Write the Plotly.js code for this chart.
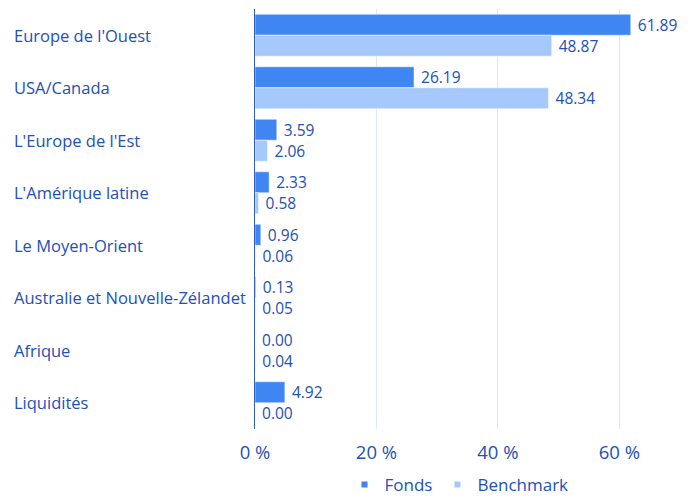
<!DOCTYPE html>
<html><head><meta charset="utf-8">
<script src="https://cdn.plot.ly/plotly-3.0.1.min.js"></script>
<style>html,body{margin:0;padding:0;background:#fff}</style>
</head><body><div id="chart" style="width:692px;height:499px"></div>
<script>
var categories = ["Europe de l'Ouest","USA/Canada","L'Europe de l'Est","L'Amérique latine","Le Moyen-Orient","Australie et Nouvelle-Zélandet","Afrique","Liquidités"];
var fonds = [61.89,26.19,3.59,2.33,0.96,0.13,0.00,4.92];
var benchmark = [48.87,48.34,2.06,0.58,0.06,0.05,0.04,0.00];
var seriesNames = ["Fonds","Benchmark"];
var tickVals = [0,20,40,60];
var tickText = ["0 %","20 %","40 %","60 %"];

var txtColor = "#2150b8";
var colors = ['#3f86f2', '#a5c9fb'];
var fontFam = "'Open Sans', 'Noto Sans', sans-serif";
function tr(name, vals, color){
  return {type:'bar', orientation:'h', name:name, y:categories, x:vals,
    text:vals.map(function(v){return '\u00a0' + v.toFixed(2);}), textposition:'outside',
    cliponaxis:false, showlegend:false, constraintext:'none',
    textfont:{color:txtColor,size:15.5,family:fontFam},
    marker:{color:color, line:{color:'rgba(255,255,255,0.5)', width:1}},
    hoverinfo:'x+y'};
}
var data = [tr(seriesNames[0], fonds, colors[0]), tr(seriesNames[1], benchmark, colors[1])];
seriesNames.forEach(function(n, i){
  data.push({type:'scatter', mode:'markers', name:n, x:[null], y:[null],
    marker:{symbol:'square', size:6, color:colors[i]}, showlegend:true, hoverinfo:'skip'});
});
var annotations = categories.map(function(c){
  return {xref:'paper', yref:'y', x:-0.572, y:c, xanchor:'left', yanchor:'middle',
    text:c, showarrow:false, font:{color:txtColor,size:16.5,family:fontFam}};
});
var layout = {
  width:692, height:499,
  margin:{l:255, r:12, t:9, b:70},
  barmode:'group', bargap:0.2, bargroupgap:0,
  paper_bgcolor:'#fff', plot_bgcolor:'#fff',
  font:{family:fontFam, color:txtColor},
  xaxis:{range:[0,70], tickvals:tickVals, ticktext:tickText, showgrid:true,
    gridcolor:'#dce8f9', gridwidth:1, zeroline:false, showline:false,
    tickfont:{size:18.5,color:txtColor,family:fontFam}, ticks:'', ticklabelstandoff:10,
    automargin:false, fixedrange:true},
  yaxis:{autorange:'reversed', showticklabels:false, showline:true, linecolor:'#2f5fc4',
    linewidth:1, ticks:'', showgrid:false, zeroline:false, automargin:false, fixedrange:true},
  showlegend:true,
  legend:{orientation:'h', x:0.48, xanchor:'center', xref:'paper', y:0.028, yanchor:'middle', yref:'container',
    font:{size:17,color:txtColor,family:fontFam}, itemwidth:30, tracegroupgap:0},
  annotations:annotations
};
Plotly.newPlot('chart', data, layout, {displayModeBar:false, staticPlot:true});
</script></body></html>
